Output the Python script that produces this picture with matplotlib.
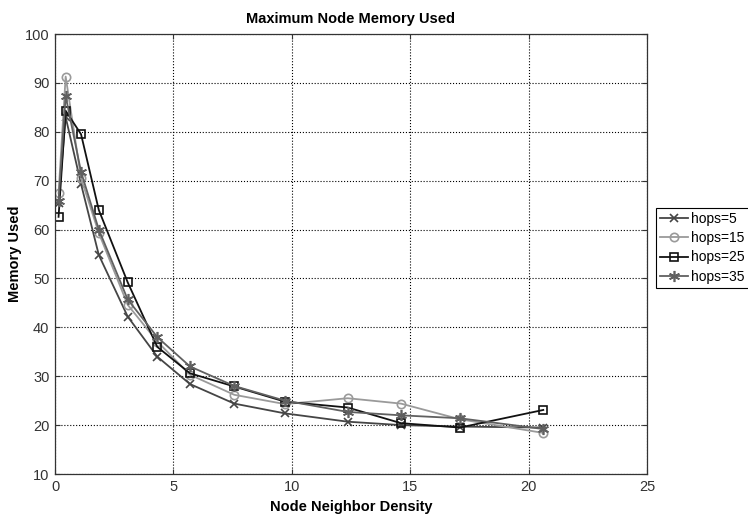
import numpy as np
import matplotlib
matplotlib.use('Agg')
from matplotlib import pyplot as plt

plt.rcParams['font.family'] = ['Liberation Sans', 'DejaVu Sans']

# node neighbor density (x) and max memory used per hop setting
density = [0.15, 0.45, 1.1, 1.85, 3.07, 4.32, 5.7, 7.57, 9.71, 12.36, 14.61, 17.1, 20.62]
hops5 = [65.5, 83.0, 69.3, 54.8, 42.2, 34.0, 28.4, 24.4, 22.4, 20.7, 20.0, 19.7, 19.5]
hops15 = [67.4, 91.3, 70.5, 59.3, 44.6, 37.1, 30.3, 26.2, 24.3, 25.5, 24.4, 21.2, 18.4]
hops25 = [62.6, 84.3, 79.5, 64.0, 49.2, 36.0, 30.6, 27.9, 24.8, 23.6, 20.4, 19.5, 23.1]
hops35 = [65.8, 87.3, 71.8, 60.0, 45.7, 38.0, 32.0, 28.0, 25.0, 22.7, 22.0, 21.4, 19.2]

fig = plt.figure(figsize=(7.48, 5.16), dpi=100)
ax = fig.add_axes([55/748, 42/516, 592/748, 440/516])

ax.plot(density, hops5, '-x', c='#454545', lw=1.3, ms=6, mew=1.2, label='hops=5')
ax.plot(density, hops15, '-o', c='#9a9a9a', lw=1.3, ms=6, mew=1.2, mfc='none', label='hops=15')
ax.plot(density, hops25, '-s', c='#111111', lw=1.3, ms=6, mew=1.2, mfc='none', label='hops=25')
ax.plot(density, hops35, '-', marker=(6, 2, 0), c='#606060', lw=1.3, ms=8, mew=1.2, label='hops=35')

ax.set_xlim(0, 25)
ax.set_ylim(10, 100)
ax.set_xticks(np.arange(0, 26, 5))
ax.set_yticks(np.arange(10, 101, 10))
ax.grid(True, ls=':', c='black', lw=0.8)
ax.tick_params(direction='in', top=True, right=True, labelsize=10.5, colors='#333333', pad=4)
for s in ax.spines.values():
    s.set_color('#333333')
    s.set_linewidth(0.9)

ax.set_title('Maximum Node Memory Used', fontsize=10.5, fontweight='bold', pad=8)
ax.set_xlabel('Node Neighbor Density', fontsize=10.5, fontweight='bold', labelpad=5)
ax.set_ylabel('Memory Used', fontsize=10.5, fontweight='bold', labelpad=2)

leg = fig.legend(loc='upper left', bbox_to_anchor=(656/748, 1 - 208/516), borderaxespad=0,
                 fontsize=10, handlelength=2.0, handletextpad=0.2, labelspacing=0.37,
                 borderpad=0.3, fancybox=False, framealpha=1)
leg.get_frame().set_edgecolor('black')
leg.get_frame().set_linewidth(0.8)

plt.savefig('out.png', dpi=100)
